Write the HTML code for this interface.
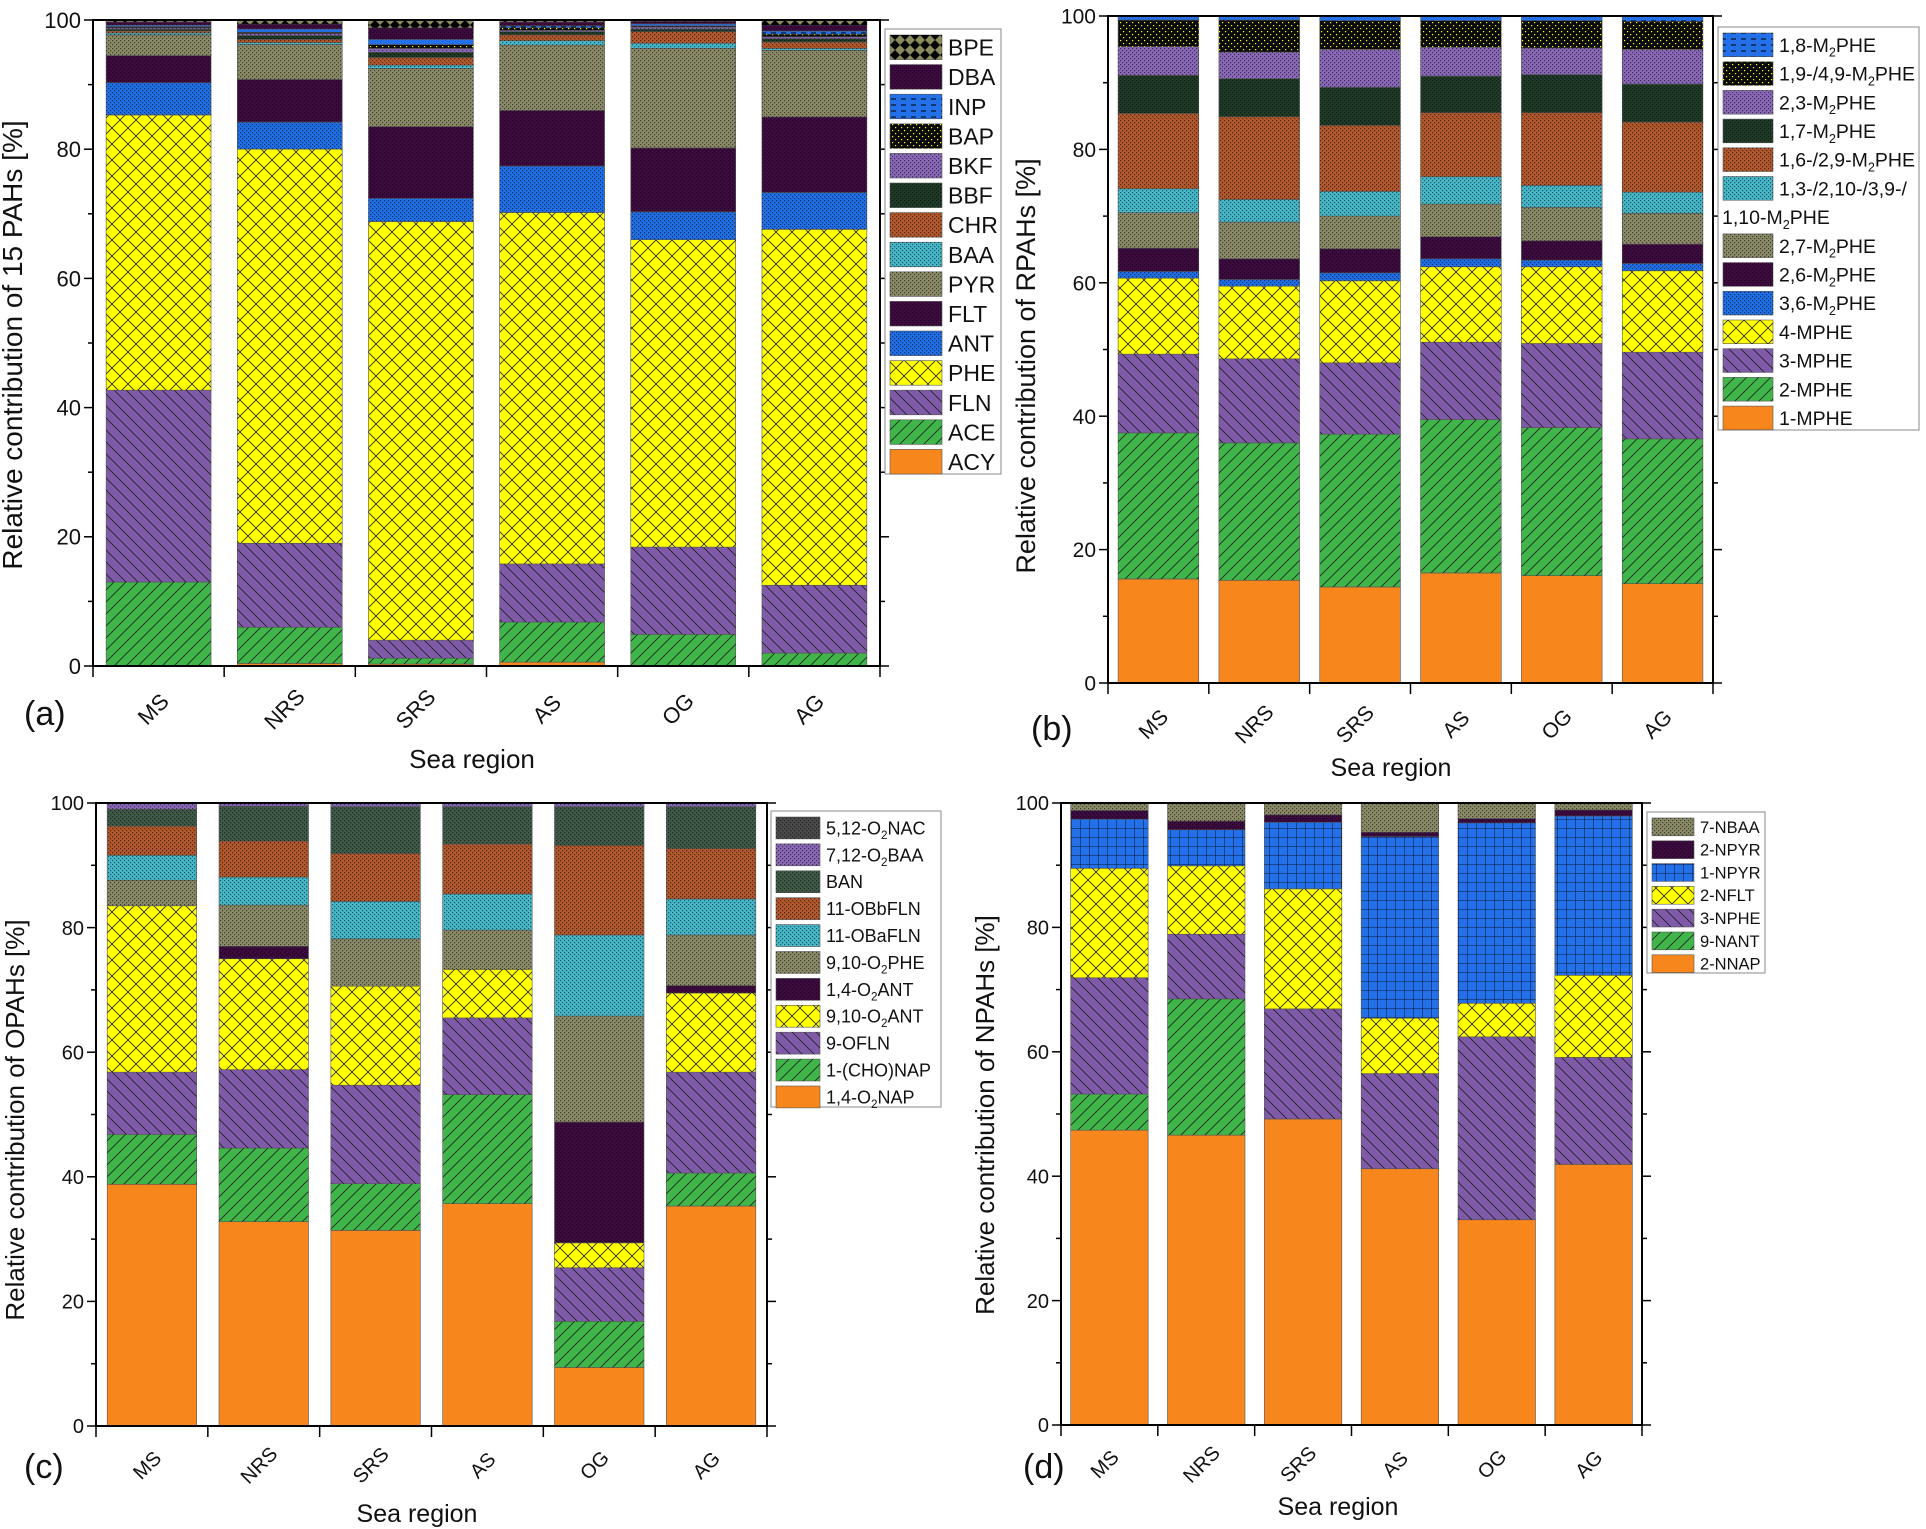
<!DOCTYPE html>
<html><head><meta charset="utf-8"><style>
html,body{margin:0;padding:0;background:#fff;}
svg{display:block;font-family:"Liberation Sans",Arial,sans-serif;}
</style></head><body>
<svg id="fig" width="1926" height="1529" viewBox="0 0 1926 1529" xmlns="http://www.w3.org/2000/svg">
<defs>
<pattern id="p-fwd" width="12" height="12" patternUnits="userSpaceOnUse"><path d="M0,12 L12,0 M-3,3 L3,-3 M9,15 L15,9" stroke="#222" stroke-width="0.8"/></pattern>
<pattern id="p-back" width="12" height="12" patternUnits="userSpaceOnUse"><path d="M0,0 L12,12 M-3,9 L3,15 M9,-3 L15,3" stroke="#222" stroke-width="0.8"/></pattern>
<pattern id="p-cross" width="16" height="16" patternUnits="userSpaceOnUse"><path d="M0,0 L16,16 M16,0 L0,16" stroke="#222" stroke-width="0.8"/></pattern>
<pattern id="p-dots" width="4" height="4" patternUnits="userSpaceOnUse"><rect x="0" y="0" width="1.2" height="1.2" fill="#000" opacity="0.55"/><rect x="2" y="2" width="1.2" height="1.2" fill="#000" opacity="0.55"/></pattern>
<pattern id="p-ydots" width="6" height="6" patternUnits="userSpaceOnUse"><rect x="1" y="1" width="1.2" height="1.2" fill="#ff0"/><rect x="4" y="4" width="1.2" height="1.2" fill="#ff0"/></pattern>
<pattern id="p-dash" width="10" height="6" patternUnits="userSpaceOnUse"><path d="M1,3 L6,3" stroke="#000" stroke-width="1"/></pattern>
<pattern id="p-check" width="10" height="10" patternUnits="userSpaceOnUse"><path d="M5,0 L10,5 L5,10 L0,5Z" fill="#000"/></pattern>
<pattern id="p-grid" width="9" height="9" patternUnits="userSpaceOnUse"><path d="M0,0 L9,0 M0,0 L0,9" stroke="#000" stroke-width="0.8"/></pattern>
</defs>
<g id="root"></g>
</svg>
<script>
const NS="http://www.w3.org/2000/svg";
const categories=["MS","NRS","SRS","AS","OG","AG"];
// Panel (a)
const namesA=["ACY","ACE","FLN","PHE","ANT","FLT","PYR","BAA","CHR","BBF","BKF","BAP","INP","DBA","BPE"];
const valuesA=[
[0,0.4,0.3,0.6,0,0],
[13,5.6,0.9,6.2,4.9,2],
[29.7,13,2.8,9,13.5,10.5],
[42.6,61,64.8,54.4,47.6,55.1],
[5,4.2,3.6,7.2,4.3,5.7],
[4.2,6.6,11.1,8.6,9.9,11.7],
[3.2,5.4,9,10.1,15.4,10.3],
[0.3,0.3,0.5,0.7,0.8,0.3],
[0.3,0.5,1.2,0.9,1.8,1],
[0.3,0.6,0.8,0.5,0.4,0.5],
[0.2,0.3,0.6,0.2,0.3,0.3],
[0.2,0.2,0.6,0.4,0.2,0.4],
[0.2,0.5,0.8,0.3,0.3,0.5],
[0.5,0.8,1.8,0.6,0.4,0.9],
[0.3,0.6,1.2,0.3,0.2,0.8]];
// Panel (b)
const namesB=["1-MPHE","2-MPHE","3-MPHE","4-MPHE","3,6-M_2PHE","2,6-M_2PHE","2,7-M_2PHE","1,3-/2,10-/3,9-/|1,10-M_2PHE","1,6-/2,9-M_2PHE","1,7-M_2PHE","2,3-M_2PHE","1,9-/4,9-M_2PHE","1,8-M_2PHE"];
const valuesB=[
[15.6,15.4,14.4,16.5,16.1,14.9],
[21.9,20.6,22.9,23,22.2,21.7],
[11.8,12.6,10.7,11.6,12.6,13],
[11.4,10.9,12.3,11.3,11.5,12.2],
[1,1,1.2,1.2,1,1.1],
[3.5,3.1,3.6,3.3,2.9,2.9],
[5.3,5.5,4.9,4.9,5,4.6],
[3.6,3.4,3.7,4.1,3.3,3.2],
[11.3,12.4,9.9,9.6,10.9,10.5],
[5.7,5.7,5.7,5.5,5.7,5.7],
[4.3,4,5.7,4.3,4,5.2],
[4,4.8,4.3,4,4.1,4.2],
[0.6,0.6,0.7,0.7,0.7,0.8]];
// Panel (c)
const namesC=["1,4-O_2NAP","1-(CHO)NAP","9-OFLN","9,10-O_2ANT","1,4-O_2ANT","9,10-O_2PHE","11-OBaFLN","11-OBbFLN","BAN","7,12-O_2BAA","5,12-O_2NAC"];
const valuesC=[
[38.8,32.8,31.4,35.7,9.4,35.3],
[8,11.8,7.5,17.5,7.4,5.3],
[10,12.6,15.8,12.3,8.6,16.2],
[26.7,17.8,15.9,7.8,4,12.7],
[0,2,0,0,19.4,1.2],
[4.1,6.6,7.6,6.3,17,8.1],
[4,4.5,6,5.8,13,5.8],
[4.7,5.8,7.7,8,14.4,8.1],
[2.7,5.6,7.5,6,6.2,6.7],
[1,0.5,0.6,0.6,0.6,0.6],
[0,0,0,0,0,0]];
// Panel (d)
const namesD=["2-NNAP","9-NANT","3-NPHE","2-NFLT","1-NPYR","2-NPYR","7-NBAA"];
const valuesD=[
[47.4,46.6,49.2,41.2,33,41.9],
[5.8,21.9,0,0,0,0],
[18.7,10.4,17.7,15.3,29.4,17.2],
[17.6,11,19.3,8.9,5.4,13.2],
[7.9,5.8,10.7,29.2,29,25.6],
[1.4,1.4,1.2,0.7,0.7,1],
[1.2,2.9,1.9,4.7,2.5,1.1]];
const yTicks=[0,20,40,60,80,100];

const ST={
 orange:["#f7861c",null], green:["#3fb54a","p-fwd"], purple:["#7e5aa8","p-back"], yellow:["#ffff00","p-cross"],
 blue:["#1f6fe6","p-dots"], dpurple:["#3d0b3f","p-dots"], olive:["#8a8a68","p-dots"], cyan:["#46b8c9","p-dots"],
 brown:["#b1582c","p-dots"], dgreen:["#1f3b27","p-dots"], lav:["#8a68b8","p-dots"], black:["#0a0a0a","p-ydots"],
 dblue:["#2470e8","p-dash"], bpe:["#8b8a5e","p-check"], grey:["#4a4a4a","p-dots"], bgrid:["#2470e8","p-grid"], dgo:["#3f5a47","p-dots"]
};
const stylesA=["orange","green","purple","yellow","blue","dpurple","olive","cyan","brown","dgreen","lav","black","dblue","dpurple","bpe"];
const stylesB=["orange","green","purple","yellow","blue","dpurple","olive","cyan","brown","dgreen","lav","black","dblue"];
const stylesC=["orange","green","purple","yellow","dpurple","olive","cyan","brown","dgo","lav","grey"];
const stylesD=["orange","green","purple","yellow","bgrid","dpurple","olive"];

const root=document.getElementById("root");
function el(tag,attrs,parent){const e=document.createElementNS(NS,tag);for(const k in attrs)e.setAttribute(k,attrs[k]);(parent||root).appendChild(e);return e;}
function richText(t,txt,fs){
  const parts=txt.split("_");
  t.appendChild(document.createTextNode(parts[0]));
  for(let i=1;i<parts.length;i++){
    const sub=el("tspan",{"font-size":fs*0.65,dy:fs*0.25},t);sub.textContent=parts[i][0];
    const rest=el("tspan",{dy:-fs*0.25},t);rest.textContent=parts[i].slice(1);
  }
}
function fillRect(g,x,y,w,h,style,name){
  const s=ST[style];
  const r=el("rect",{x:x,y:y,width:w,height:h,fill:s[0],stroke:"#555","stroke-width":0.6},g);
  
  
  if(s[1]){el("rect",{x:x,y:y,width:w,height:h,fill:"url(#"+s[1]+")"},g);}
  return r;
}
function panel(P){
  const g=el("g",{});
  
  
  const yS=v=>P.bottom-(v/100)*(P.bottom-P.top);
  const step=(P.right-P.left)/categories.length;
  const xC=i=>P.left+step*(i+0.5);
  const bw=step*0.8;
  for(let i=0;i<categories.length;i++){
    let cum=0;
    for(let s=0;s<P.values.length;s++){
      const v=P.values[s][i]; if(v<=0){continue;}
      const y1=yS(cum+v), y0=yS(cum);
      fillRect(g,xC(i)-bw/2,y1,bw,y0-y1,P.styles[s],'bar-'+P.id+'-'+categories[i]+'-'+P.names[s].replace(/[^A-Za-z0-9]+/g,'-'));
      cum+=v;
    }
  }
  const fr=el("rect",{x:P.left,y:P.top,width:P.right-P.left,height:P.bottom-P.top,fill:"none",stroke:"#000","stroke-width":2},g);
  
  
  for(let v=0;v<=100;v+=10){
    const y=yS(v), L=v%20===0?9:5;
    el("line",{x1:P.left-L,x2:P.left,y1:y,y2:y,stroke:"#000","stroke-width":1.5},g);
    el("line",{x1:P.right,x2:P.right+L,y1:y,y2:y,stroke:"#000","stroke-width":1.5},g);
  }
  yTicks.forEach(v=>{
    const t=el("text",{x:P.left-12,y:yS(v)+P.fs*0.36,"text-anchor":"end","font-size":P.fs,fill:"#111"},g);
    t.textContent=v;
    
    
  });
  for(let i=0;i<=categories.length;i++){const x=P.left+step*i;el("line",{x1:x,x2:x,y1:P.bottom,y2:P.bottom+11,stroke:"#000","stroke-width":1.5},g);}
  categories.forEach((c,i)=>{
    const x=xC(i), y=P.bottom+P.fs*2.2;
    const t=el("text",{x:x,y:y,"text-anchor":"middle","font-size":P.fs,transform:`rotate(-45 ${x} ${y})`,fill:"#111"},g);
    t.textContent=c;
    
    
  });
  const xt=el("text",{x:P.xtX,y:P.xtY,"text-anchor":"middle","font-size":P.xfs,fill:"#111"},g);
  xt.textContent="Sea region";
  
  
  const yMid=P.ytY;
  const yt=el("text",{x:P.ytX,y:yMid,"text-anchor":"middle","font-size":P.tfs,transform:`rotate(-90 ${P.ytX} ${yMid})`,fill:"#111"},g);
  yt.textContent=P.ytitle;
  
  
  const pl=el("text",{x:P.lblX,y:P.lblY,"font-size":34,fill:"#111"},g);
  pl.textContent="("+P.id+")";
  
  
  const lg=el("g",{},g);
  
  
  el("rect",{x:P.lg.x,y:P.lg.y,width:P.lg.w,height:P.lg.h,fill:"#fff",stroke:"#888","stroke-width":1},lg);
  let row=0;
  for(let k=P.names.length-1;k>=0;k--){
    const s=P.names[k], y=P.lg.y+6+row*P.lg.rh;
    const e=el("g",{},lg);
    
    
    fillRect(e,P.lg.x+5,y,P.lg.sw,P.lg.rh-5,P.styles[k],'legend-swatch');
    const lines=s.split("|");
    const t=el("text",{x:P.lg.x+P.lg.sw+11,y:y+(P.lg.rh-5)/2+P.lg.fs*0.36,"font-size":P.lg.fs,fill:"#111"},e);
    richText(t,lines[0],P.lg.fs);
    row++;
    if(lines[1]){
      const t2=el("text",{x:P.lg.x+4,y:P.lg.y+6+row*P.lg.rh+(P.lg.rh-5)/2+P.lg.fs*0.36,"font-size":P.lg.fs,fill:"#111"},e);
      richText(t2,lines[1],P.lg.fs);
      row++;
    }
  }
}
panel({id:"a",names:namesA,values:valuesA,styles:stylesA,left:93,right:880,top:20,bottom:666,fs:22,tfs:28,xfs:26,
  xtX:472,xtY:768,ytX:22,ytY:345,ytitle:"Relative contribution of 15 PAHs [%]",lblX:24,lblY:725,
  lg:{x:885,y:29,w:116,h:445,rh:29.6,sw:52,fs:23}});
panel({id:"b",names:namesB,values:valuesB,styles:stylesB,left:1108,right:1713,top:16,bottom:683,fs:21,tfs:27,xfs:25,
  xtX:1391,xtY:776,ytX:1035,ytY:366,ytitle:"Relative contribution of RPAHs [%]",lblX:1031,lblY:740,
  lg:{x:1718,y:27,w:201,h:403,rh:28.7,sw:50,fs:19.5}});
panel({id:"c",names:namesC,values:valuesC,styles:stylesC,left:96,right:767,top:803,bottom:1426,fs:20,tfs:26,xfs:25,
  xtX:417,xtY:1522,ytX:24,ytY:1120,ytitle:"Relative contribution of OPAHs [%]",lblX:24,lblY:1478,
  lg:{x:771,y:811,w:170,h:296,rh:26.9,sw:44,fs:18}});
panel({id:"d",names:namesD,values:valuesD,styles:stylesD,left:1061,right:1642,top:803,bottom:1425,fs:20,tfs:26,xfs:25,
  xtX:1338,xtY:1515,ytX:994,ytY:1115,ytitle:"Relative contribution of NPAHs [%]",lblX:1023,lblY:1478,
  lg:{x:1647,y:812,w:118,h:161,rh:22.8,sw:42,fs:16.5}});
</script>
</body></html>
